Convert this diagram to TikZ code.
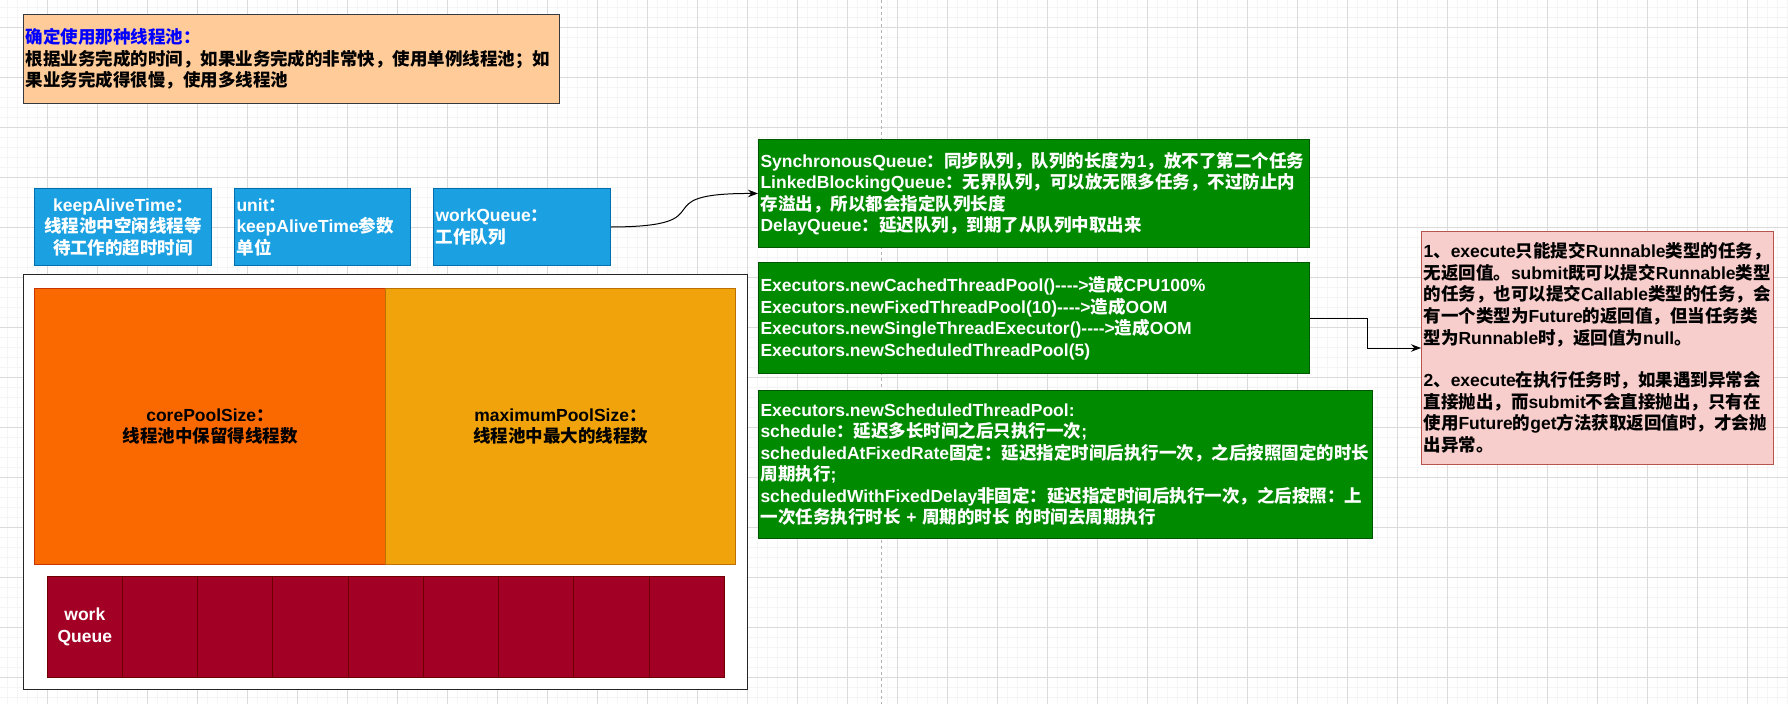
\documentclass[tikz,border=0pt]{standalone}
\usepackage{fontspec}
\setmainfont{Liberation Sans}
\newfontfamily\latinfont{Liberation Sans}
\newfontfamily\cjkfont{Noto Sans CJK SC}
\usetikzlibrary{arrows.meta}
\XeTeXinterchartokenstate=1
\chardef\CJKcls=7
\newcount\cjkcnt
\def\setcjkrange#1#2{\cjkcnt=#1\relax\loop\XeTeXcharclass\cjkcnt=\CJKcls\relax\advance\cjkcnt by 1\relax\ifnum\cjkcnt<#2\relax\repeat}
\setcjkrange{"3000}{"3040}
\setcjkrange{"4E00}{"A000}
\setcjkrange{"FF00}{"FFF0}
\XeTeXinterchartoks 0 \CJKcls = {\cjkfont}
\XeTeXinterchartoks 4095 \CJKcls = {\cjkfont}
\XeTeXinterchartoks \CJKcls 0 = {\latinfont}
\XeTeXinterchartoks \CJKcls 4095 = {\latinfont}
\definecolor{noteFill}{HTML}{FFCC99}
\definecolor{noteLine}{HTML}{36393D}
\definecolor{titleBlue}{HTML}{0000FF}
\definecolor{blueFill}{HTML}{1BA1E2}
\definecolor{blueLine}{HTML}{006EAF}
\definecolor{coreFill}{HTML}{FA6800}
\definecolor{coreLine}{HTML}{C73500}
\definecolor{maxFill}{HTML}{F0A30A}
\definecolor{maxLine}{HTML}{BD7000}
\definecolor{wqFill}{HTML}{A20025}
\definecolor{wqLine}{HTML}{6F0000}
\definecolor{greenFill}{HTML}{008A00}
\definecolor{greenLine}{HTML}{005700}
\definecolor{pinkFill}{HTML}{F8CECC}
\definecolor{pinkLine}{HTML}{B85450}
\def\arr{-{}-{}-{}-{}>}
\begin{document}
\begin{tikzpicture}[x=1pt,y=-1pt,
  txt/.style={font=\fontsize{17.5}{21.5}\selectfont\bfseries},
  box/.style={txt, draw, line width=1pt, anchor=north west, inner ysep=0pt, inner xsep=2pt},
  bluebox/.style={box, fill=blueFill, draw=blueLine, text=white, minimum height=77pt},
  greenbox/.style={box, fill=greenFill, draw=greenLine, text=white, align=left},
  cell/.style={box, fill=wqFill, draw=wqLine, text=white, minimum width=75.25pt, minimum height=101pt, inner xsep=0pt, align=center, text width=75.25pt},
  conn/.style={draw=black, line width=1pt, -{Stealth[length=10pt,width=7.5pt]}},
  minorgrid/.style={draw=black!4, line width=0.8pt},
  majorgrid/.style={draw=black!14, line width=0.8pt},
]
\useasboundingbox (0,0) rectangle (1788,704);
\fill[white] (0,0) rectangle (1788,704);
\foreach \x in {7.7,17.7,...,1787.7} \draw[minorgrid] (\x,0) -- (\x,704);
\foreach \y in {7.3,17.3,...,703.3} \draw[minorgrid] (0,\y) -- (1788,\y);
\foreach \x in {47.7,97.7,...,1787.7} \draw[majorgrid] (\x,0) -- (\x,704);
\foreach \y in {27.3,77.3,...,703.3} \draw[majorgrid] (0,\y) -- (1788,\y);
\draw[black!30, line width=1pt, dash pattern=on 3pt off 3pt] (881.7,0) -- (881.7,704);

% note
\node[box, fill=noteFill, draw=noteLine, minimum width=536pt, minimum height=89pt, text width=532pt, align=left] (note) at (23,14)
 {{\color{titleBlue}确定使用那种线程池：}\\
  根据业务完成的时间，如果业务完成的非常快，使用单例线程池；如\\
  果业务完成得很慢，使用多线程池};

% parameter boxes
\node[bluebox, minimum width=177pt, text width=173pt, align=center] (b1) at (34,188)
 {keepAliveTime：\\线程池中空闲线程等\\待工作的超时时间};
\node[bluebox, minimum width=176pt, text width=172pt, align=left] (b2) at (234,188)
 {unit：\\keepAliveTime参数\\单位};
\node[bluebox, minimum width=177pt, text width=173pt, align=left] (b3) at (433,188)
 {workQueue：\\工作队列};

% thread pool container
\node[draw=black!85, fill=white, line width=1.4pt, anchor=north west, minimum width=724pt, minimum height=415pt, inner sep=0pt] (pool) at (23,274) {};
\node[box, fill=coreFill, draw=coreLine, minimum width=351pt, minimum height=276pt, text width=347pt, align=center] (core) at (34,288)
 {corePoolSize：\\线程池中保留得线程数};
\node[box, fill=maxFill, draw=maxLine, minimum width=350pt, minimum height=276pt, text width=346pt, align=center] (max) at (385,288)
 {maximumPoolSize：\\线程池中最大的线程数};
\node[cell] (q0) at (46.7,576) {work\\Queue};
\foreach \i in {1,...,8} \node[cell] (q\i) at ({46.7+75.25*\i},576) {};

% green boxes
\node[greenbox, minimum width=551pt, minimum height=108pt, text width=547pt] (g1) at (758,139)
 {SynchronousQueue：同步队列，队列的长度为1，放不了第二个任务\\
  LinkedBlockingQueue：无界队列，可以放无限多任务，不过防止内\\
  存溢出，所以都会指定队列长度\\
  DelayQueue：延迟队列，到期了从队列中取出来};
\node[greenbox, minimum width=551pt, minimum height=111pt, text width=547pt] (g2) at (758,262)
 {Executors.newCachedThreadPool()\arr 造成CPU100\%\\
  Executors.newFixedThreadPool(10)\arr 造成OOM\\
  Executors.newSingleThreadExecutor()\arr 造成OOM\\
  Executors.newScheduledThreadPool(5)};
\node[greenbox, minimum width=614pt, minimum height=148pt, text width=610pt] (g3) at (758,390)
 {Executors.newScheduledThreadPool:\\
  schedule：延迟多长时间之后只执行一次;\\
  scheduledAtFixedRate固定：延迟指定时间后执行一次，之后按照固定的时长\\
  周期执行;\\
  scheduledWithFixedDelay非固定：延迟指定时间后执行一次，之后按照：上\\
  一次任务执行时长 + 周期的时长 的时间去周期执行};

% pink note
\node[box, fill=pinkFill, draw=pinkLine, minimum width=352pt, minimum height=233pt, text width=348pt, align=left] (pk) at (1421,231)
 {1、execute只能提交Runnable类型的任务，\\
  无返回值。submit既可以提交Runnable类型\\
  的任务，也可以提交Callable类型的任务，会\\
  有一个类型为Future的返回值，但当任务类\\
  型为Runnable时，返回值为null。\\[21.5pt]
  2、execute在执行任务时，如果遇到异常会\\
  直接抛出，而submit不会直接抛出，只有在\\
  使用Future的get方法获取返回值时，才会抛\\
  出异常。};

% connectors
\draw[conn] (b3.east) .. controls (730,226.5) and (638,193) .. (g1.west);
\draw[conn] (g2.east) -- ++(57,0) |- (pk.west);
\end{tikzpicture}
\end{document}
